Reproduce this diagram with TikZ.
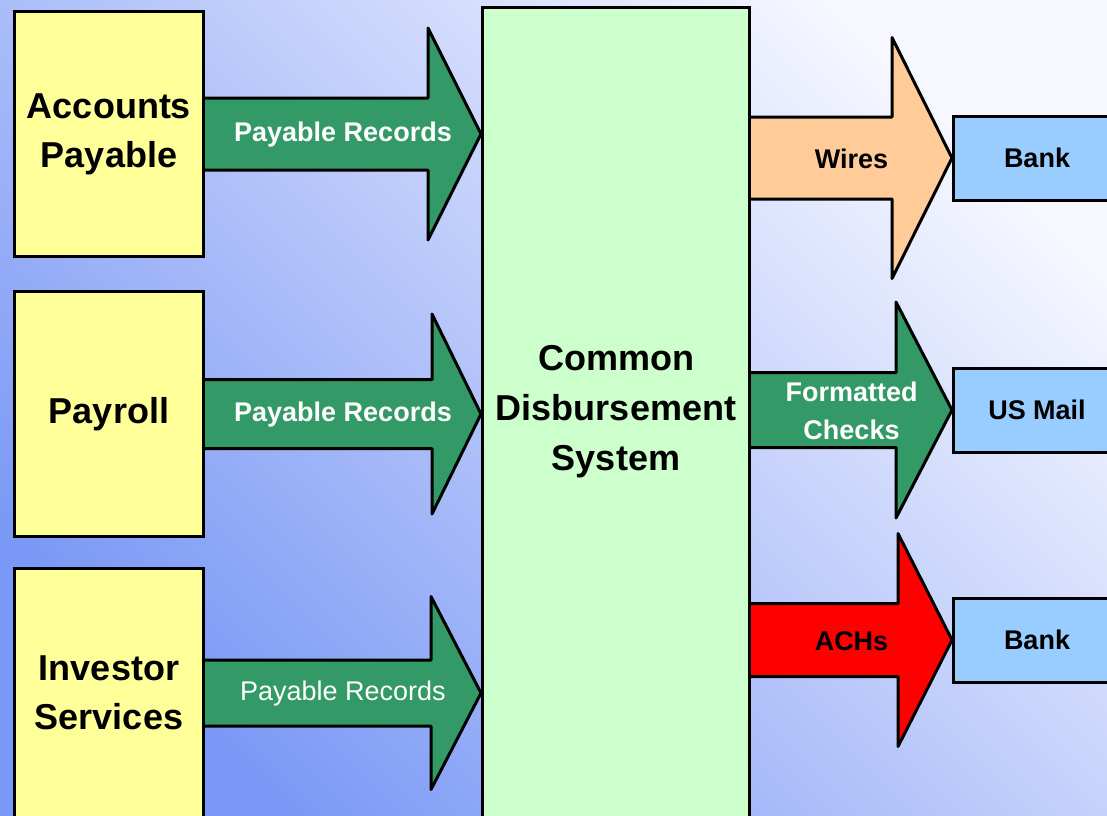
\documentclass[tikz,border=0pt]{standalone}
\usepackage{fontspec}
\setmainfont{Liberation Sans}
\usetikzlibrary{calc}

\definecolor{bgdark}{HTML}{7A98F5}
\definecolor{bglight}{HTML}{F6F7FF}
\definecolor{srcyellow}{HTML}{FFFF99}
\definecolor{hubgreen}{HTML}{CCFFCC}
\definecolor{dstblue}{HTML}{99CCFF}
\definecolor{flowgreen}{HTML}{339966}
\definecolor{flowpeach}{HTML}{FFCC99}
\definecolor{flowred}{HTML}{FF0000}

\pgfdeclarelayer{back}
\pgfdeclarelayer{mid}
\pgfsetlayers{back,mid,main}

\tikzset{
  boxline/.style={draw=black, line width=3pt, inner sep=0pt, align=center},
  srcbox/.style={boxline, fill=srcyellow, minimum width=189pt,
    font=\fontsize{36}{49}\selectfont\bfseries},
  hubbox/.style={boxline, fill=hubgreen, minimum width=267pt, minimum height=823pt},
  hubtext/.style={align=center, font=\fontsize{36}{50}\selectfont\bfseries},
  dstbox/.style={boxline, fill=dstblue, minimum width=167pt, minimum height=84pt,
    font=\fontsize{27}{38}\selectfont\bfseries},
  blockshape/.style={draw=black, line width=3pt, line join=round},
  arrowtext/.style={align=center, inner sep=0pt, font=\fontsize{27}{38}\selectfont\bfseries},
}

% block arrow from point #2 to tip point #3 (both node anchors)
% #1 path style, #4 shaft half height, #5 head half height, #6 head length,
% #7 label style, #8 label
\newcommand\blockarrow[8]{%
  \begin{pgfonlayer}{mid}
  \path[blockshape,#1] let \p1=(#2), \p2=(#3) in
    (\x1,\y2+#4) -- (\x2-#6,\y2+#4) -- (\x2-#6,\y2+#5) -- (\x2,\y2)
    -- (\x2-#6,\y2-#5) -- (\x2-#6,\y2-#4) -- (\x1,\y2-#4)
    node[arrowtext,#7] at ({(\x1+\x2)/2},\y2-1pt) {#8};
  \end{pgfonlayer}}

\begin{document}
\begin{tikzpicture}[x=1pt,y=-1pt]
\useasboundingbox (0,0) rectangle (1107,815);

\begin{pgfonlayer}{back}
  \shade[top color=bglight, bottom color=bgdark, shading angle=-45]
    (0,0) rectangle (1107,815);
\end{pgfonlayer}

% sources
\node[srcbox, minimum height=245pt] (ap)  at (109,134) {Accounts\\Payable};
\node[srcbox, minimum height=245pt] (pay) at (109,414) {Payroll};
\node[srcbox, minimum height=250pt] (inv) at (109,693) {Investor\\Services};

% hub
\node[hubbox] (cds) at (616,418.5) {};
\node[hubtext] (cdstext) at (616,412) {Common\\Disbursement\\System};

% destinations
\node[dstbox] (bank1) at (1037,158) {Bank};
\node[dstbox] (mail)  at (1037,410) {US Mail};
\node[dstbox] (bank2) at (1037,640) {Bank};

% inbound flows
\blockarrow{fill=flowgreen}{ap.east}{cds.west |- ap.east}{36pt}{106pt}{53pt}{text=white}{Payable Records}
\blockarrow{fill=flowgreen}{pay.east}{cds.west |- pay.east}{34.5pt}{100pt}{49pt}{text=white}{Payable Records}
\blockarrow{fill=flowgreen}{inv.east}{cds.west |- inv.east}{33pt}{96.5pt}{50pt}{text=white,font=\fontsize{27}{38}\selectfont}{Payable Records}

% outbound flows
\blockarrow{fill=flowpeach}{cds.east |- bank1.west}{bank1.west}{41pt}{120.5pt}{60pt}{text=black}{Wires}
\blockarrow{fill=flowgreen}{cds.east |- mail.west}{mail.west}{37.5pt}{108pt}{56pt}{text=white}{Formatted\\Checks}
\blockarrow{fill=flowred}{cds.east |- bank2.west}{bank2.west}{36.5pt}{106.5pt}{54pt}{text=black}{ACHs}
\end{tikzpicture}
\end{document}
